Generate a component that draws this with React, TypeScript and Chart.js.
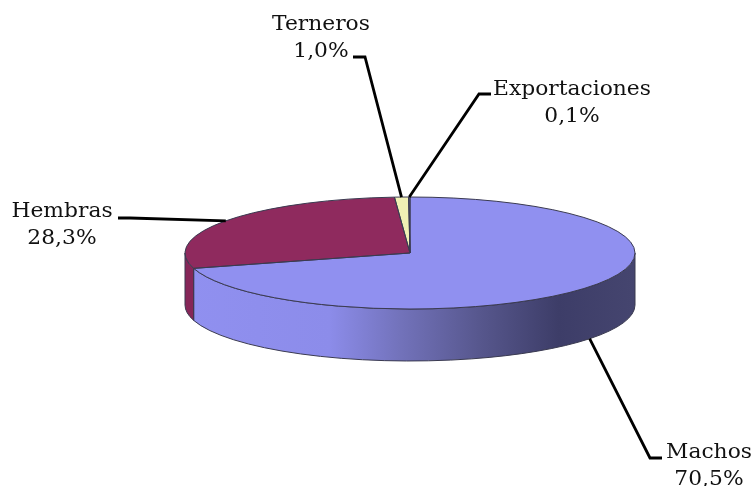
import React, { useEffect, useRef } from "react";
import { Chart, registerables } from "chart.js";

Chart.register(...registerables);

const categories = ["Machos", "Hembras", "Terneros", "Exportaciones"];
const shares = [70.5, 28.3, 1.0, 0.1];
const shareLabels = ["70,5%", "28,3%", "1,0%", "0,1%"];
const topColors = ["#9090F0", "#8F2A5E", "#F0F0B4", "#8A8AC8"];
const sideColors = ["#9090F0", "#862658", "#C8C890", "#6A6AA0"];

const SQUASH = 56 / 225;
const DEPTH = 52;
const FONT = '20px "DejaVu Serif"';
const TEXT_STRETCH = 1.09;
const LINE_GAP = 26.5;

const labelLayout: Record<string, any> = {
  Machos: { x: 709, y: 458, elbow: [[650, 458], [662, 458]], bottom: true },
  Hembras: { x: 62, y: 217, elbow: [[130, 218], [118, 218]] },
  Terneros: { x: 321, y: 30, elbow: [[365, 57], [353, 57]] },
  Exportaciones: { x: 572, y: 95, elbow: [[479, 94], [491, 94]] },
};

const pie3d = {
  id: "pie3d",
  beforeDatasetsDraw(chart: any) {
    const ctx = chart.ctx;
    const arcs = chart.getDatasetMeta(0).data;
    const cx = arcs[0].x;
    const cy = arcs[0].y;
    const rx = arcs[0].outerRadius;
    const ry = rx * SQUASH;
    const grad = ctx.createLinearGradient(cx - rx, 0, cx + rx, 0);
    grad.addColorStop(0, "#9090F0");
    grad.addColorStop(0.32, "#8C8CEA");
    grad.addColorStop(0.48, "#7272BA");
    grad.addColorStop(0.66, "#56568C");
    grad.addColorStop(0.83, "#3D3D68");
    grad.addColorStop(1, "#45456F");
    arcs.forEach((a: any, i: number) => {
      const s = Math.max(a.startAngle, 0);
      const e = Math.min(a.endAngle, Math.PI);
      if (e <= s) return;
      ctx.save();
      ctx.beginPath();
      ctx.ellipse(cx, cy, rx, ry, 0, s, e, false);
      ctx.ellipse(cx, cy + DEPTH, rx, ry, 0, e, s, true);
      ctx.closePath();
      ctx.fillStyle = i === 0 ? grad : sideColors[i];
      ctx.fill();
      ctx.strokeStyle = "#3A3A50";
      ctx.lineWidth = 1;
      ctx.stroke();
      ctx.restore();
    });
    ctx.save();
    ctx.translate(cx, cy);
    ctx.scale(1, SQUASH);
    ctx.translate(-cx, -cy);
  },
  afterDatasetsDraw(chart: any) {
    const ctx = chart.ctx;
    ctx.restore();
    const arcs = chart.getDatasetMeta(0).data;
    const cx = arcs[0].x;
    const cy = arcs[0].y;
    const rx = arcs[0].outerRadius;
    const ry = rx * SQUASH;
    ctx.save();
    ctx.strokeStyle = "#3A3A50";
    ctx.lineWidth = 1;
    arcs.forEach((a: any) => {
      ctx.beginPath();
      ctx.moveTo(cx, cy);
      ctx.ellipse(cx, cy, rx, ry, 0, a.startAngle, a.endAngle, false);
      ctx.closePath();
      ctx.stroke();
    });
    ctx.restore();

    ctx.save();
    ctx.font = FONT;
    ctx.fillStyle = "#111111";
    ctx.textAlign = "center";
    ctx.textBaseline = "alphabetic";
    categories.forEach((name, i) => {
      const a = arcs[i];
      const mid = (a.startAngle + a.endAngle) / 2;
      const l = labelLayout[name];
      const ax = cx + rx * Math.cos(mid);
      const ay = cy + ry * Math.sin(mid) + (l.bottom ? DEPTH : 0);
      ctx.beginPath();
      ctx.moveTo(ax, ay);
      l.elbow.forEach((p: number[]) => ctx.lineTo(p[0], p[1]));
      ctx.strokeStyle = "#000000";
      ctx.lineWidth = 2.8;
      ctx.lineJoin = "miter";
      ctx.stroke();
      [name, shareLabels[i]].forEach((text, row) => {
        ctx.save();
        ctx.translate(l.x, l.y + row * LINE_GAP);
        ctx.scale(TEXT_STRETCH, 1);
        ctx.fillText(text, 0, 0);
        ctx.restore();
      });
    });
    ctx.restore();
  },
};

export default function App() {
  const ref = useRef<HTMLCanvasElement>(null);
  useEffect(() => {
    const chart = new Chart(ref.current!, {
      type: "pie",
      data: {
        labels: categories,
        datasets: [{ data: shares, backgroundColor: topColors, borderWidth: 0 }],
      },
      options: {
        responsive: false,
        animation: false,
        layout: { padding: { left: 185, right: 120, top: 28, bottom: 8 } },
        plugins: { legend: { display: false }, tooltip: { enabled: false } },
      },
      plugins: [pie3d],
    } as any);
    return () => chart.destroy();
  }, []);
  return (
    <div style={{ position: "fixed", left: 0, top: 0, width: 755, height: 486, background: "#fff" }}>
      <canvas ref={ref} width={755} height={486} style={{ display: "block" }} />
    </div>
  );
}
